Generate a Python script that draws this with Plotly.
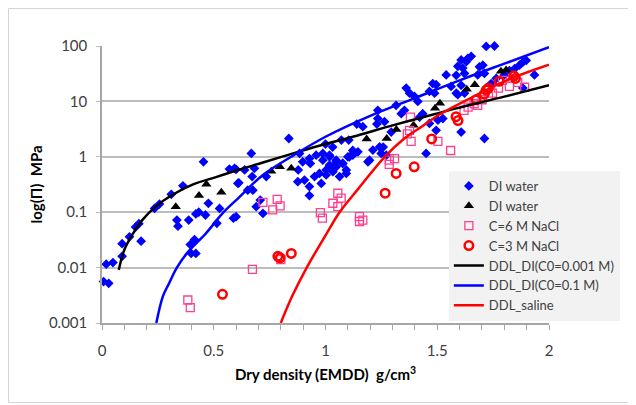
import plotly.graph_objects as go

# ---------------- data ----------------
di_diamond_x = [0.007, 0.03, 0.019, 0.049, 0.09, 0.09, 0.123, 0.15, 0.165, 0.175, 0.235, 0.257,
                0.31, 0.362, 0.335, 0.34, 0.388, 0.42, 0.433, 0.463, 0.395, 0.414, 0.399, 0.42,
                0.454, 0.476, 0.526, 0.514, 0.588, 0.60, 0.612, 0.57,
                0.593, 0.608, 0.638, 0.668, 0.682, 0.672, 0.652, 0.675, 0.69, 0.72, 0.60, 0.708,
                0.735, 0.836, 0.884, 0.898, 0.928, 0.958, 0.988, 1.018, 1.048, 1.077, 1.10, 1.122,
                0.876, 0.906, 0.928, 0.951, 0.981, 1.003, 1.033, 1.063, 1.093, 0.928, 0.973, 1.018,
                1.048, 1.145, 0.988, 1.018, 1.048, 1.077, 1.107, 1.033, 1.093, 1.003, 1.197, 1.212,
                1.242, 1.249, 1.272, 1.234, 1.264, 1.294, 1.316, 1.361, 1.376, 1.339, 1.353, 1.398,
                1.413, 1.421, 1.465, 1.45, 1.495, 1.525, 1.465, 1.495, 1.488, 1.54, 1.562, 1.585,
                1.607, 1.63, 1.614, 1.48, 1.234, 1.19, 1.607, 1.592, 1.435, 1.503,
                1.719, 1.756, 1.637, 1.652, 1.689, 1.704, 1.622, 1.607, 1.585, 1.741, 1.764, 1.711,
                1.681, 1.8, 1.823, 1.846, 1.868, 1.883, 1.898, 1.935, 1.883, 1.622, 1.592, 1.711,
                1.14, 1.167, 1.122, 1.23, 1.258, 1.032, 1.071, 1.104, 1.0, 0.878, 0.932]
di_diamond_y = [0.0056, 0.0052, 0.0115, 0.0123, 0.016, 0.027, 0.036, 0.054, 0.062, 0.030, 0.117, 0.14,
                0.21, 0.30, 0.072, 0.056, 0.072, 0.093, 0.10, 0.089, 0.026, 0.032, 0.018, 0.018,
                0.81, 0.145, 0.117, 0.063, 0.078, 0.59, 0.34, 0.6,
                0.62, 0.33, 0.58, 1.15, 0.62, 0.44, 0.25, 0.25, 0.126, 0.095, 0.083, 0.166,
                0.44, 2.14, 1.15, 0.81, 0.93, 1.07, 1.15, 1.07, 0.81, 0.76, 1.0, 1.07,
                0.355, 0.38, 0.29, 0.44, 0.33, 0.47, 0.54, 0.44, 0.5, 0.2, 0.5, 0.71,
                0.66, 1.23, 0.87, 1.0, 0.87, 0.76, 1.0, 0.66, 0.58, 0.58, 0.87, 1.32,
                1.51, 1.15, 1.07, 4.9, 4.3, 2.8, 8.5, 17.4, 14.1, 6.0, 6.9, 12.3,
                10.0, 5.2, 4.0, 1.15, 3.0, 4.9, 15.1, 20.0, 14.1, 30.0, 18.6, 14.1,
                2.8, 52.0, 40.0, 21.0, 6.9, 0.81, 56.0, 43.0, 6.0, 4.6,
                98.0, 100.0, 60.0, 65.0, 42.0, 45.0, 32.0, 19.5, 29.5, 21.0, 26.0, 32.0,
                30.0, 30.0, 36.0, 39.0, 45.0, 51.0, 55.0, 30.0, 17.4, 14.1, 13.2, 2.14,
                3.9, 3.5, 1.3, 3.9, 1.5, 1.5, 2.0, 2.0, 1.7, 0.58, 0.76]

di_triangle_x = [0.33, 0.434, 0.467, 0.534, 0.757, 0.796, 0.847, 1.184, 1.274, 1.317, 1.394,
                 1.49, 1.512, 1.632, 1.668, 1.785, 1.808]
di_triangle_y = [0.126, 0.2, 0.32, 0.23, 0.55, 0.66, 0.62, 2.1, 2.15, 3.1, 3.7,
                 7.5, 9.3, 16.5, 20.0, 35.0, 37.0]

nacl6_x = [0.384, 0.395, 0.673, 0.72, 0.764, 0.784, 0.797, 0.80, 0.977, 0.986, 1.033, 1.055,
           1.07, 1.055, 1.152, 1.167, 1.152, 1.285, 1.286, 1.309, 1.366, 1.376, 1.38, 1.383,
           1.503, 1.56, 1.62, 1.638, 1.665, 1.681, 1.701, 1.729, 1.747, 1.774, 1.792, 1.823,
           1.837, 1.86, 1.891]
nacl6_y = [0.0026, 0.0019, 0.0093, 0.15, 0.11, 0.17, 0.13, 0.014, 0.098, 0.078, 0.145, 0.22,
           0.18, 0.126, 0.083, 0.072, 0.068, 0.73, 0.87, 0.93, 2.6, 3.0, 5.2, 1.9,
           1.9, 1.3, 6.9, 7.9, 9.1, 8.5, 10.7, 12.3, 14.1, 17.4, 24.0, 18.6,
           26.0, 22.0, 18.0]

nacl3_x = [0.539, 0.787, 0.797, 0.847, 1.267, 1.316, 1.397, 1.475, 1.584, 1.593, 1.674,
           1.71, 1.719, 1.729, 1.777, 1.843, 1.85]
nacl3_y = [0.0033, 0.016, 0.015, 0.018, 0.22, 0.5, 0.66, 2.1, 5.3, 4.5, 10.7,
           13.5, 16.0, 17.4, 23.0, 29.0, 26.0]

ddl_c0001_x = [0.075, 0.10, 0.14, 0.18, 0.24, 0.31, 0.41, 0.51, 0.61, 0.72, 0.87, 1.00,
               1.14, 1.28, 1.43, 1.58, 1.80, 2.00]
ddl_c0001_y = [0.0091, 0.021, 0.042, 0.072, 0.126, 0.20, 0.32, 0.43, 0.58, 0.79, 1.2, 1.7,
               2.4, 3.5, 5.1, 7.4, 12.2, 19.5]

ddl_c01_x = [0.243, 0.272, 0.30, 0.335, 0.384, 0.466, 0.544, 0.61, 0.72, 0.846, 1.0, 1.2,
             1.4, 1.6, 1.8, 2.0]
ddl_c01_y = [0.001, 0.0030, 0.0052, 0.010, 0.019, 0.042, 0.10, 0.18, 0.47, 1.0, 2.3, 5.5,
             11.5, 24.0, 48.0, 95.0]

ddl_saline_x = [0.80, 0.85, 0.916, 1.0, 1.063, 1.15, 1.265, 1.35, 1.43, 1.51, 1.62, 1.81, 2.0]
ddl_saline_y = [0.001, 0.0030, 0.010, 0.038, 0.10, 0.275, 1.0, 2.1, 3.5, 5.8, 10.0, 24.0, 46.0]

y_tickvals = [0.001, 0.01, 0.1, 1, 10, 100]
y_ticktext = ["0.001", "0.01", "0.1", "1", "10", "100"]
x_tickvals = [0, 0.5, 1, 1.5, 2]
x_ticktext = ["0", "0.5", "1", "1.5", "2"]

# ---------------- figure ----------------
FONT = "Lato, 'Open Sans', sans-serif"
fig = go.Figure()

fig.add_trace(go.Scatter(x=di_diamond_x, y=di_diamond_y, mode="markers", name="DI water",
                         cliponaxis=False,
                         marker=dict(symbol="diamond", size=7.5, color="#0000ff")))
fig.add_trace(go.Scatter(x=di_triangle_x, y=di_triangle_y, mode="markers", name="DI water",
                         cliponaxis=False,
                         marker=dict(symbol="triangle-up", size=9, color="#000000")))
fig.add_trace(go.Scatter(x=nacl6_x, y=nacl6_y, mode="markers", name="C=6 M NaCl",
                         cliponaxis=False,
                         marker=dict(symbol="square-open", size=8, color="#ff3f8f",
                                     line=dict(width=1.3, color="#ff3f8f"))))
fig.add_trace(go.Scatter(x=nacl3_x, y=nacl3_y, mode="markers", name="C=3 M NaCl",
                         cliponaxis=False,
                         marker=dict(symbol="circle-open", size=8.5, color="#ff0000",
                                     line=dict(width=2.5, color="#ff0000"))))
fig.add_trace(go.Scatter(x=ddl_c0001_x, y=ddl_c0001_y, mode="lines", name="DDL_DI(C0=0.001 M)",
                         line=dict(color="#000000", width=2.5, shape="spline", smoothing=1.0)))
fig.add_trace(go.Scatter(x=ddl_c01_x, y=ddl_c01_y, mode="lines", name="DDL_DI(C0=0.1 M)",
                         line=dict(color="#0000ff", width=2.5, shape="spline", smoothing=1.0)))
fig.add_trace(go.Scatter(x=ddl_saline_x, y=ddl_saline_y, mode="lines", name="DDL_saline",
                         line=dict(color="#ff0000", width=2.5, shape="spline", smoothing=1.0)))

fig.update_layout(
    width=628, height=397,
    margin=dict(l=94, r=87, t=38, b=82, autoexpand=False),
    paper_bgcolor="white", plot_bgcolor="white",
    font=dict(family=FONT, size=15, color="#404040"),
    showlegend=True,
    legend=dict(x=0.776, y=0.549, xanchor="left", yanchor="top",
                bgcolor="#f2f2f2", borderwidth=0,
                font=dict(family=FONT, size=13, color="#404040"),
                tracegroupgap=0, itemwidth=30),
    xaxis=dict(range=[0, 2], tickvals=x_tickvals, ticktext=x_ticktext,
               showgrid=False, zeroline=False, showline=True, linecolor="#a6a6a6", linewidth=1.5,
               ticks="outside", ticklen=5, tickcolor="#a6a6a6", tickwidth=1,
               ticklabelstandoff=8,
               minor=dict(dtick=0.1, ticks="outside", ticklen=5, tickcolor="#a6a6a6", showgrid=False),
               title=dict(text="<b>Dry density (EMDD)  g/cm<sup>3</sup></b>",
                          font=dict(family=FONT, size=15, color="#000000"), standoff=12)),
    yaxis=dict(type="log", range=[-3, 2], tickvals=y_tickvals, ticktext=y_ticktext,
               showgrid=True, gridcolor="#bcbcbc", gridwidth=1.5, zeroline=False,
               showline=True, linecolor="#a6a6a6", linewidth=1.5,
               ticks="outside", ticklen=4, tickcolor="#bcbcbc", ticklabelstandoff=6,
               title=dict(text="<b>log(\u03a0)  MPa</b>",
                          font=dict(family=FONT, size=15, color="#000000"), standoff=3)),
    shapes=[dict(type="rect", xref="paper", yref="paper", x0=-0.2092, x1=1.25, y0=-0.2870, y1=1.1354,
                 line=dict(color="#d4d4d4", width=1), fillcolor="rgba(0,0,0,0)", layer="below")],
)

fig.write_html("out.html")
